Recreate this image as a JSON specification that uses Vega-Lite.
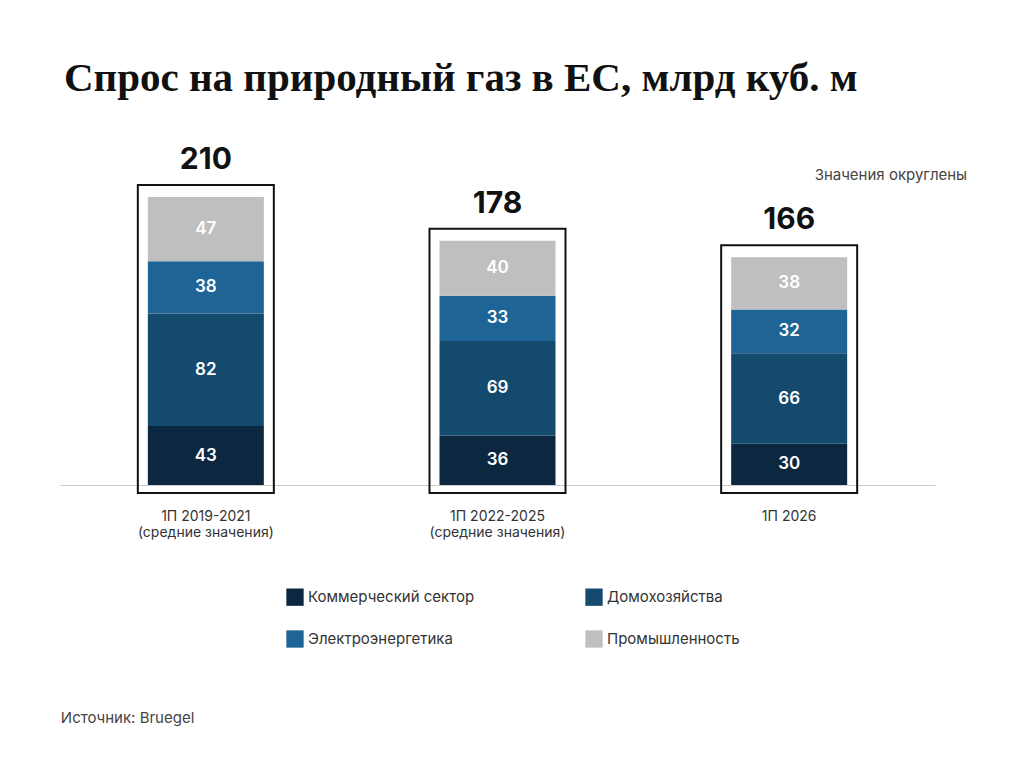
{
  "$schema": "https://vega.github.io/schema/vega-lite/v6.json",
  "width": 875,
  "height": 343,
  "autosize": "none",
  "padding": {"left": 60, "top": 142, "right": 89, "bottom": 282},
  "background": "white",
  "title": {
    "text": "Спрос на природный газ в ЕС, млрд куб. м",
    "anchor": "start",
    "font": "Liberation Serif",
    "fontSize": 41,
    "fontWeight": "bold",
    "color": "#111111",
    "offset": 42,
    "dx": 4
  },
  "datasets": {
    "parts": [
      {"period": "1П 2019-2021|(средние значения)", "sector": "Коммерческий сектор", "value": 43, "o": 1},
      {"period": "1П 2019-2021|(средние значения)", "sector": "Домохозяйства", "value": 82, "o": 2},
      {"period": "1П 2019-2021|(средние значения)", "sector": "Электроэнергетика", "value": 38, "o": 3},
      {"period": "1П 2019-2021|(средние значения)", "sector": "Промышленность", "value": 47, "o": 4},
      {"period": "1П 2022-2025|(средние значения)", "sector": "Коммерческий сектор", "value": 36, "o": 1},
      {"period": "1П 2022-2025|(средние значения)", "sector": "Домохозяйства", "value": 69, "o": 2},
      {"period": "1П 2022-2025|(средние значения)", "sector": "Электроэнергетика", "value": 33, "o": 3},
      {"period": "1П 2022-2025|(средние значения)", "sector": "Промышленность", "value": 40, "o": 4},
      {"period": "1П 2026", "sector": "Коммерческий сектор", "value": 30, "o": 1},
      {"period": "1П 2026", "sector": "Домохозяйства", "value": 66, "o": 2},
      {"period": "1П 2026", "sector": "Электроэнергетика", "value": 32, "o": 3},
      {"period": "1П 2026", "sector": "Промышленность", "value": 38, "o": 4}
    ],
    "totals": [
      {"period": "1П 2019-2021|(средние значения)", "total": 210},
      {"period": "1П 2022-2025|(средние значения)", "total": 178},
      {"period": "1П 2026", "total": 166}
    ]
  },
  "layer": [
    {
      "data": {"name": "parts"},
      "mark": {"type": "bar", "width": 116},
      "encoding": {
        "x": {
          "field": "period", "type": "nominal", "sort": null,
          "scale": {"paddingInner": 0.6, "paddingOuter": 0.3},
          "axis": {
            "title": null, "labelAngle": 0, "ticks": false,
            "domainColor": "#cccccc", "labelPadding": 24,
            "labelExpr": "split(datum.label, '|')",
            "labelFont": "Inter", "labelFontSize": 14, "labelColor": "#333333"
          }
        },
        "y": {"field": "value", "type": "quantitative", "stack": "zero", "scale": {"domain": [0, 250], "nice": false}, "axis": null},
        "order": {"field": "o"},
        "color": {
          "field": "sector", "type": "nominal",
          "scale": {
            "domain": ["Коммерческий сектор", "Электроэнергетика", "Домохозяйства", "Промышленность"],
            "range": ["#0b2840", "#1f6496", "#134a6e", "#bfbfbf"]
          },
          "legend": {
            "title": null, "orient": "none", "legendX": 226, "legendY": 446,
            "columns": 2, "columnPadding": 110, "rowPadding": 24,
            "symbolType": "square", "symbolSize": 300, "symbolStrokeWidth": 0,
            "labelFont": "Inter", "labelFontSize": 15, "labelColor": "#333333",
            "labelLimit": 300
          }
        }
      }
    },
    {
      "data": {"name": "parts"},
      "mark": {"type": "text", "color": "white", "font": "Inter", "fontSize": 17, "fontWeight": 600},
      "encoding": {
        "x": {"field": "period", "type": "nominal", "sort": null},
        "y": {"field": "value", "type": "quantitative", "stack": "zero", "bandPosition": 0.5, "scale": {"domain": [0, 250], "nice": false}},
        "order": {"field": "o"},
        "text": {"field": "value"}
      }
    },
    {
      "data": {"name": "totals"},
      "mark": {"type": "bar", "width": 136, "fill": null, "fillOpacity": 0, "stroke": "#111111", "strokeWidth": 2, "y2Offset": 8, "yOffset": -12},
      "encoding": {
        "x": {"field": "period", "type": "nominal", "sort": null},
        "y": {"field": "total", "type": "quantitative", "scale": {"domain": [0, 250], "nice": false}},
        "y2": {"datum": 0}
      }
    },
    {
      "data": {"name": "totals"},
      "mark": {"type": "text", "font": "Inter", "fontSize": 30, "fontWeight": "bold", "color": "#111111", "baseline": "bottom", "dy": -22},
      "encoding": {
        "x": {"field": "period", "type": "nominal", "sort": null},
        "y": {"field": "total", "type": "quantitative", "scale": {"domain": [0, 250], "nice": false}},
        "text": {"field": "total"}
      }
    },
    {
      "data": {"values": [{"t": "Значения округлены"}]},
      "mark": {"type": "text", "align": "right", "font": "Inter", "fontSize": 15, "color": "#444444", "dx": 178},
      "encoding": {
        "x": {"datum": "1П 2026"},
        "y": {"datum": 226, "scale": {"domain": [0, 250], "nice": false}},
        "text": {"field": "t"}
      }
    },
    {
      "data": {"values": [{"t": "Источник: Bruegel"}]},
      "mark": {"type": "text", "align": "left", "font": "Inter", "fontSize": 15, "color": "#444444", "dx": -145},
      "encoding": {
        "x": {"datum": "1П 2019-2021|(средние значения)"},
        "y": {"datum": -170, "scale": {"domain": [0, 250], "nice": false}},
        "text": {"field": "t"}
      }
    }
  ],
  "config": {"view": {"stroke": null}}
}
